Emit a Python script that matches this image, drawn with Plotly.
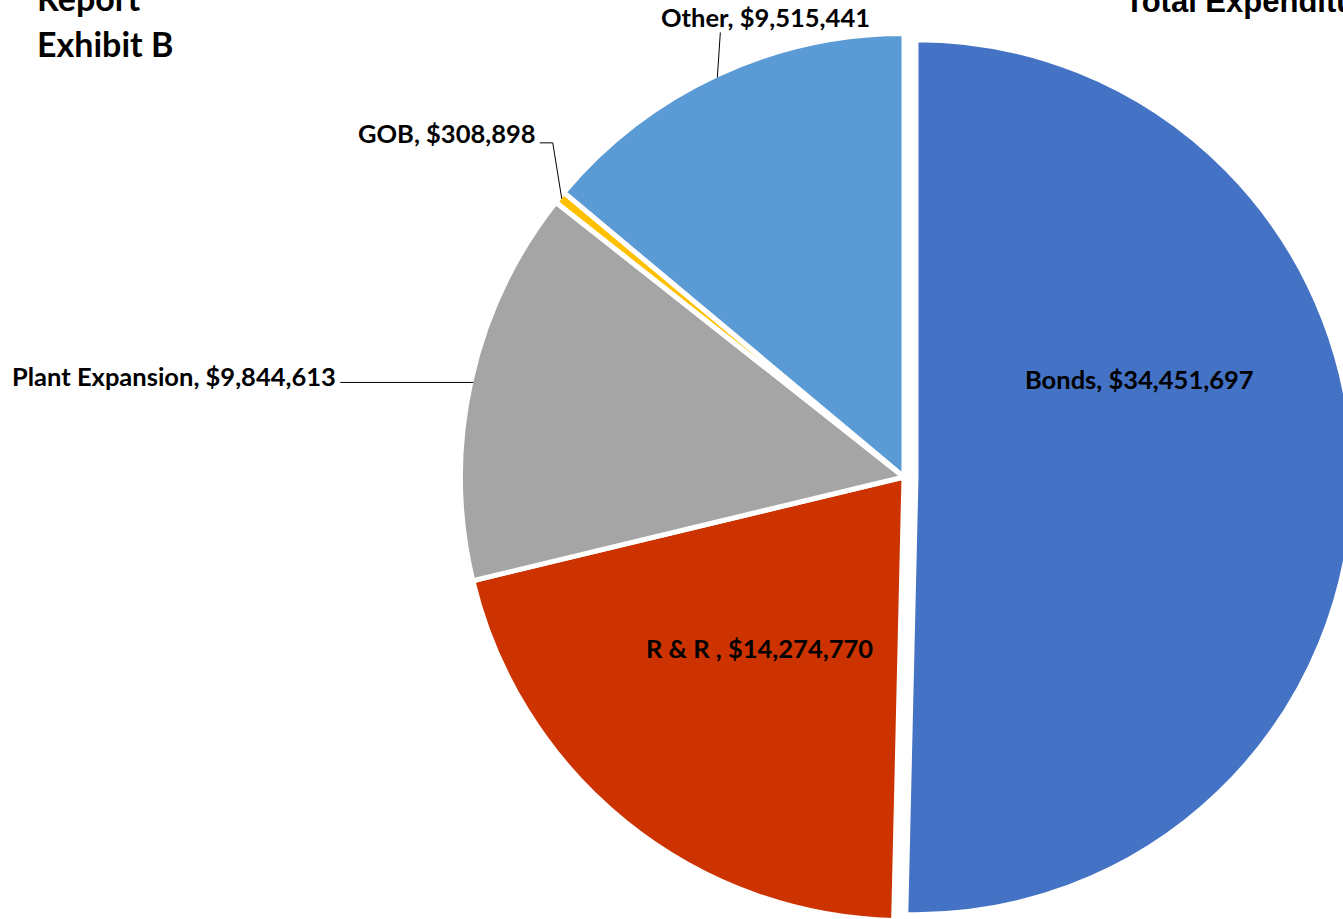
import math
import plotly.graph_objects as go

# ---------------- data ----------------
categories = ["Bonds", "R & R ", "Plant Expansion", "GOB", "Other"]
values = [34451697, 14274770, 9844613, 308898, 9515441]
colors = ["#4472C4", "#CC3300", "#A5A5A5", "#FFC000", "#5B9BD5"]
title_left = ["Report", "Exhibit B"]
title_right = "Total Expenditures"

# ---------------- layout helpers ----------------
# The chart is a crop of a larger page: the figure is drawn larger than the
# 1343x919 window and the overflow is hidden, so the pie runs off the edges.
FIG_W, FIG_H = 1400, 960
CX, CY = 904, 477          # pie centre (px from top-left)
R = 441                    # visible radius of the pie
LINE_W = 5                 # white separators between slices
EXPLODE_IDX = 0            # Bonds slice is exploded
EXPLODE_R = 435            # visible radius of the exploded slice
EXPLODE_SHIFT = 12         # px the exploded slice is pushed out
LABEL_FONT = dict(family="Lato", size=25.5, color="black", weight="bold")


def px(x):
    return x / FIG_W


def py(y):
    return 1 - y / FIG_H


total = float(sum(values))
mids = []
acc = 0.0
for v in values:
    a0 = acc / total * 360
    acc += v
    a1 = acc / total * 360
    mids.append((a0 + a1) / 2)


def polar(angle_deg, radius):
    t = math.radians(angle_deg)
    return CX + radius * math.sin(t), CY - radius * math.cos(t)


def domain_for(half):
    return dict(x=[px(CX - half), px(CX + half)],
                y=[py(CY + half), py(CY - half)])


transparent = "rgba(0,0,0,0)"
n = len(values)

# Trace A: all slices except the exploded one (radius incl. half stroke)
rA = R + LINE_W / 2
colors_a = [transparent if i == EXPLODE_IDX else colors[i] for i in range(n)]
widths_a = [0 if i == EXPLODE_IDX else LINE_W for i in range(n)]

# Trace B: only the exploded slice
rB = EXPLODE_R + LINE_W / 2
pull_frac = EXPLODE_SHIFT / rB
pulls = [pull_frac if i == EXPLODE_IDX else 0 for i in range(n)]
colors_b = [colors[i] if i == EXPLODE_IDX else transparent for i in range(n)]
widths_b = [LINE_W if i == EXPLODE_IDX else 0 for i in range(n)]

fig = go.Figure()
fig.add_trace(go.Pie(
    labels=categories, values=values, sort=False, direction="clockwise",
    rotation=0, domain=domain_for(rA), textinfo="none", hoverinfo="skip",
    marker=dict(colors=colors_a, line=dict(color="white", width=widths_a)),
    showlegend=False,
))
fig.add_trace(go.Pie(
    labels=categories, values=values, sort=False, direction="clockwise",
    rotation=0, domain=domain_for(rB * (1 + pull_frac)), textinfo="none",
    hoverinfo="skip", pull=pulls,
    marker=dict(colors=colors_b, line=dict(color="white", width=widths_b)),
    showlegend=False,
))

annotations = []
shapes = []


def label_text(i):
    return f"{categories[i]}, ${values[i]:,}"


# inside labels: (radius fraction, extra shift px)
inside = {0: (0.535, (0, -101)), 1: (0.51, (-3, -4))}
for i, (frac, (sx, sy)) in inside.items():
    x, y = polar(mids[i], frac * R)
    x += sx
    y += sy
    annotations.append(dict(x=px(x), y=py(y), xref="paper", yref="paper",
                            text=label_text(i), showarrow=False,
                            xanchor="center", yanchor="middle", font=LABEL_FONT))

# outside labels with leader lines: leader vertices (offsets from the
# slice-edge point), label anchor offset from the last vertex
outside = {
    2: dict(path=[(-133, 0)], anchor=(-2, -6), xanchor="right"),
    3: dict(path=[(-9, -56), (-22, -56)], anchor=(-2, -10), xanchor="right"),
    4: dict(path=[(3, -45)], anchor=(45, -15), xanchor="center"),
}
for i, spec in outside.items():
    ex, ey = polar(mids[i], R)
    pts = [(ex, ey)] + [(ex + dx, ey + dy) for dx, dy in spec["path"]]
    d = "M " + " L ".join(f"{px(x)},{py(y)}" for x, y in pts)
    shapes.append(dict(type="path", path=d, xref="paper", yref="paper",
                       line=dict(color="black", width=1)))
    lx, ly = pts[-1]
    lx += spec["anchor"][0]
    ly += spec["anchor"][1]
    annotations.append(dict(x=px(lx), y=py(ly), xref="paper", yref="paper",
                            text=label_text(i), showarrow=False,
                            xanchor=spec["xanchor"], yanchor="middle",
                            font=LABEL_FONT))

# titles (partly cut off at the top edge, as in the reference)
TITLE_FONT = dict(family="Lato", size=34, color="black", weight="bold")
annotations.append(dict(x=px(35), y=py(-2), xref="paper", yref="paper",
                        text=title_left[0], showarrow=False, xanchor="left",
                        yanchor="middle", font=TITLE_FONT))
annotations.append(dict(x=px(35), y=py(44), xref="paper", yref="paper",
                        text=title_left[1], showarrow=False, xanchor="left",
                        yanchor="middle", font=TITLE_FONT))
annotations.append(dict(x=px(1123), y=py(1), xref="paper", yref="paper",
                        text=title_right, showarrow=False, xanchor="left",
                        yanchor="middle",
                        font=dict(family="Liberation Sans", size=31,
                                  color="black", weight="bold")))

fig.update_layout(
    width=FIG_W, height=FIG_H,
    margin=dict(l=0, r=0, t=0, b=0, pad=0),
    paper_bgcolor="white", plot_bgcolor="white",
    annotations=annotations, shapes=shapes,
    showlegend=False,
)

fig.write_html(
    "out.html",
    config={"displayModeBar": False},
    post_script="document.body.style.margin='0';"
                "document.body.style.overflow='hidden';"
                "document.documentElement.style.overflow='hidden';",
)
